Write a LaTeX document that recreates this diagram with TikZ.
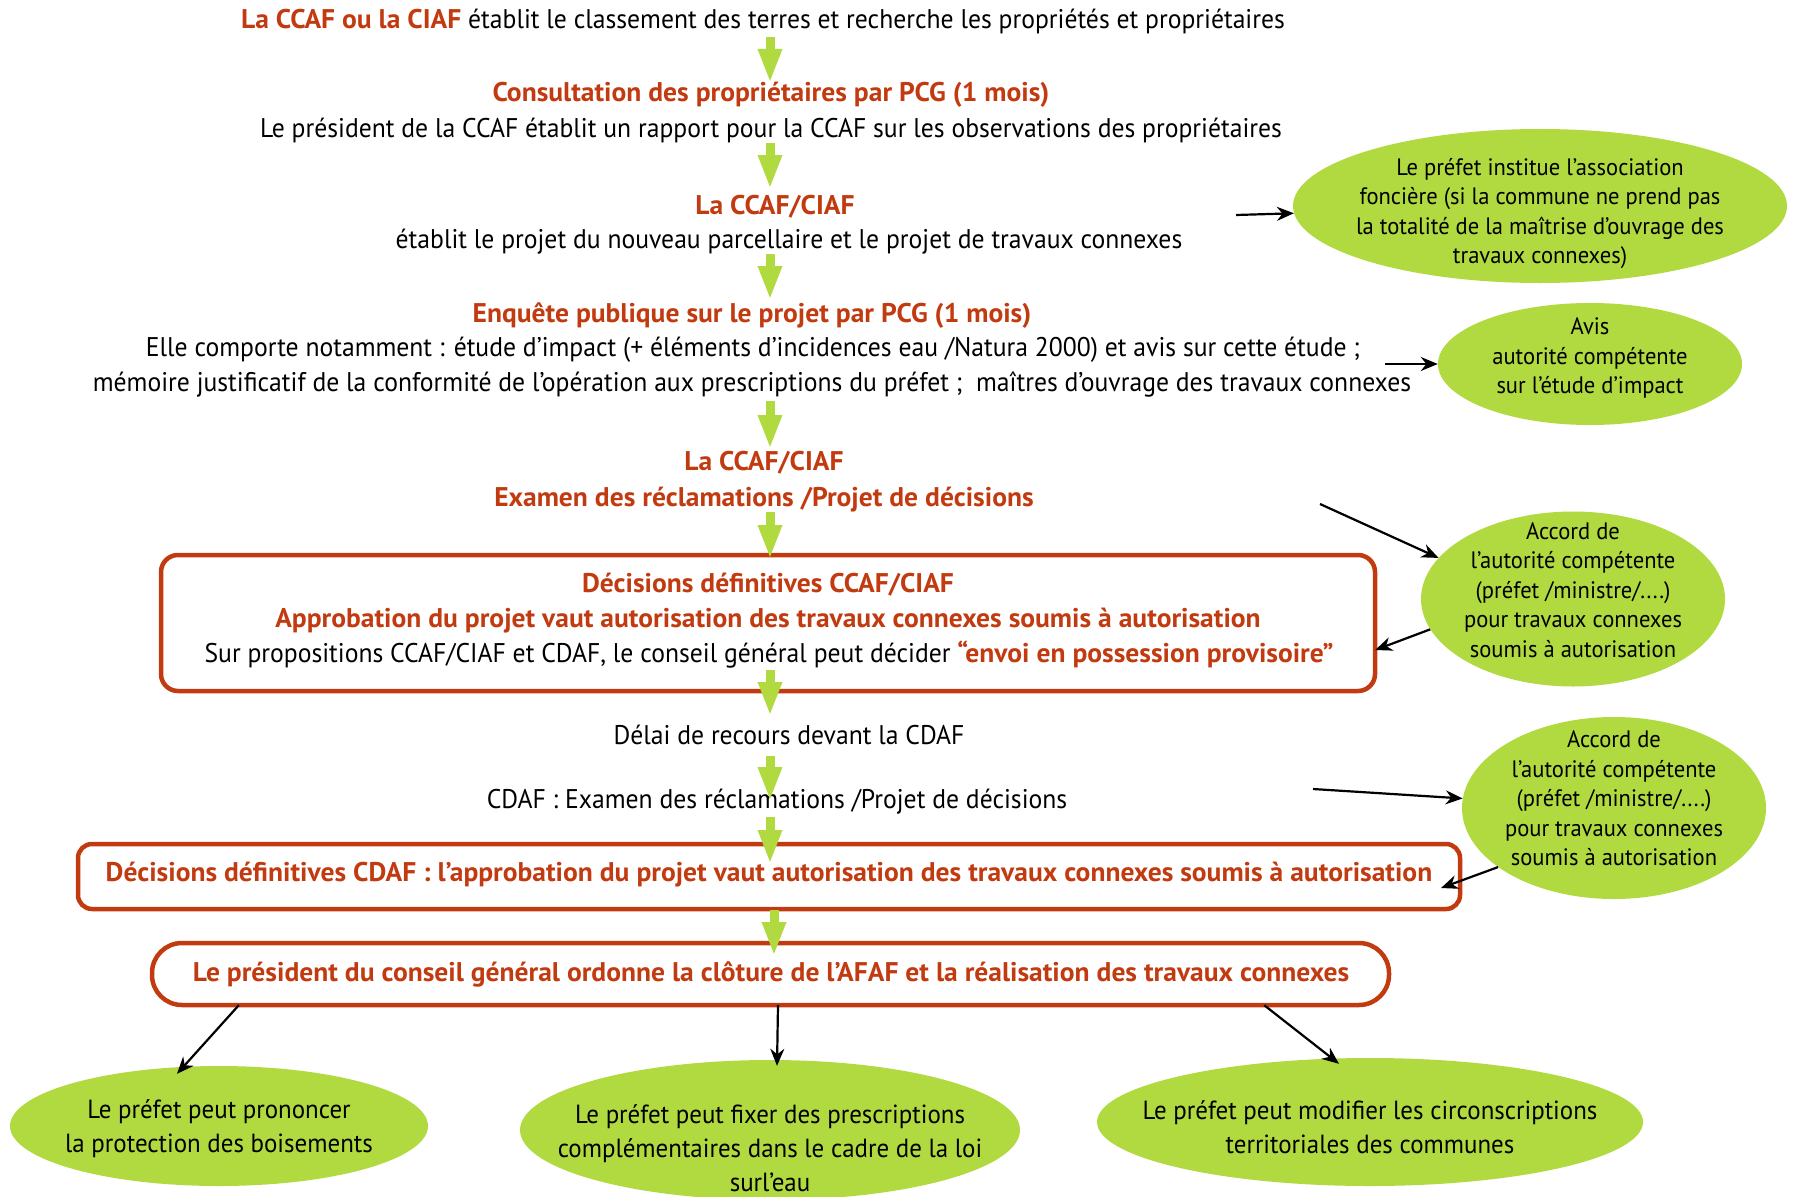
\documentclass[tikz,border=0pt]{standalone}
\usepackage{fontspec}
\setmainfont[FakeStretch=0.95,BoldFeatures={FakeStretch=1.02}]{PT Sans}
\usetikzlibrary{arrows.meta,shapes.geometric,calc}
\definecolor{rouge}{HTML}{C23B10}
\definecolor{vert}{HTML}{B0DA40}
\begin{document}
\begin{tikzpicture}[x=1pt,y=-1pt,
  txt/.style={inner sep=0pt, anchor=base, text=black, font=\fontsize{27}{35}\selectfont},
  rtxt/.style={txt, text=rouge, font=\fontsize{27}{35}\selectfont\bfseries},
  etxt/.style={inner sep=0pt, align=center, text=black, font=\fontsize{23.75}{29.5}\selectfont},
  btxt/.style={etxt, font=\fontsize{26.25}{34}\selectfont},
  ell/.style={ellipse, fill=vert, inner sep=0pt},
  rbox/.style={draw=rouge, line width=4.5pt, rounded corners=17pt},
  garrow/.style={draw=vert, line width=9pt, -{Triangle[width=22pt,length=34pt]}},
  barrow/.style={draw=black, line width=2.2pt, -{Stealth[length=17pt,width=14pt]}}]
\useasboundingbox (0,0) rectangle (1795,1196);

% main text column
\node[txt] (t1) at (763,29) {\textcolor{rouge}{\bfseries La CCAF ou la CIAF} établit le classement des terres et recherche les propriétés et propriétaires};
\node[rtxt] (t2) at (771,102) {Consultation des propriétaires par PCG (1 mois)};
\node[txt] (t3) at (771,137) {Le président de la CCAF établit un rapport pour la CCAF sur les observations des propriétaires};
\node[rtxt] (t4) at (775,214) {La CCAF/CIAF};
\node[txt] (t5) at (789,248) {établit le projet du nouveau parcellaire et le projet de travaux connexes};
\node[rtxt] (t6) at (752,322) {Enquête publique sur le projet par PCG (1 mois)};
\node[txt] (t7) at (753,356) {Elle comporte notamment : étude d’impact (+ éléments d’incidences eau /Natura 2000) et avis sur cette étude ;};
\node[txt] (t8) at (752,391) {mémoire justificatif de la conformité de l’opération aux prescriptions du préfet ;\ \ maîtres d’ouvrage des travaux connexes};
\node[rtxt] (t9) at (764,470) {La CCAF/CIAF};
\node[rtxt] (t10) at (764,506) {Examen des réclamations /Projet de décisions};

% box 1
\draw[rbox] (161,555) rectangle (1375,691);
\node[inner sep=0pt, minimum width=1214pt, minimum height=136pt] (b1) at (768,623) {};
\node[rtxt] (t11) at (768,592) {Décisions définitives CCAF/CIAF};
\node[rtxt] (t12) at (768,627) {Approbation du projet vaut autorisation des travaux connexes soumis à autorisation};
\node[txt] (t13) at (769,662) {Sur propositions CCAF/CIAF et CDAF, le conseil général peut décider \textcolor{rouge}{\bfseries “envoi en possession provisoire”}};

\node[txt] (t14) at (789,744) {Délai de recours devant la CDAF};
\node[txt] (t15) at (777,808) {CDAF : Examen des réclamations /Projet de décisions};

% box 2
\draw[rbox, rounded corners=14pt] (78,844) rectangle (1460,909);
\node[inner sep=0pt, minimum width=1382pt, minimum height=65pt] (b2) at (769,876.5) {};
\node[rtxt] (t16) at (769,881) {Décisions définitives CDAF : l’approbation du projet vaut autorisation des travaux connexes soumis à autorisation};

% box 3
\draw[rbox, rounded corners=30pt] (152,943) rectangle (1389,1005);
\node[inner sep=0pt, minimum width=1237pt, minimum height=62pt] (b3) at (770.5,974) {};
\node[rtxt] (t17) at (771,981) {Le président du conseil général ordonne la clôture de l’AFAF et la réalisation des travaux connexes};

% right ellipses
\node[ell, minimum width=494pt, minimum height=154pt] (e1) at (1540,206) {};
\node[etxt] (e1t) at (1540,213.5) {Le préfet institue l’association\\foncière (si la commune ne prend pas\\la totalité de la maîtrise d’ouvrage des\\travaux connexes)};
\node[ell, minimum width=304pt, minimum height=122pt] (e2) at (1590,364) {};
\node[etxt] (e2t) at (1590,358) {Avis\\autorité compétente\\sur l’étude d’impact};
\node[ell, minimum width=304pt, minimum height=175pt] (e3) at (1573,599) {};
\node[etxt] (e3t) at (1573,590) {Accord de\\l’autorité compétente\\(préfet /ministre/....)\\pour travaux connexes\\soumis à autorisation};
\node[ell, minimum width=304pt, minimum height=182pt] (e4) at (1614,808) {};
\node[etxt] (e4t) at (1614,798.5) {Accord de\\l’autorité compétente\\(préfet /ministre/....)\\pour travaux connexes\\soumis à autorisation};

% bottom ellipses
\node[ell, minimum width=418pt, minimum height=120pt] (eb1) at (219,1126) {};
\node[btxt] (eb1t) at (219,1129) {Le préfet peut prononcer\\la protection des boisements};
\node[ell, minimum width=500pt, minimum height=140pt] (eb2) at (770,1130) {};
\node[btxt] (eb2t) at (770,1148) {Le préfet peut fixer des prescriptions\\complémentaires dans le cadre de la loi\\surl’eau};
\node[ell, minimum width=546pt, minimum height=128pt] (eb3) at (1370,1122) {};
\node[btxt] (eb3t) at (1370,1127.5) {Le préfet peut modifier les circonscriptions\\territoriales des communes};

% black connectors
\coordinate (c1) at (1236,215);
\coordinate (c2) at (1385,364);
\coordinate (c3) at (1320,504);
\coordinate (c4) at (1313,789);
\draw[barrow] (c1) -- (e1);
\draw[barrow] (c2) -- (e2);
\draw[barrow] (c3) -- (e3.163);
\draw[barrow] (c4) -- (e4);
\draw[barrow] (e3.192.5) -- ([yshift=-27pt]b1.east);
\coordinate (c5) at (1441,888);
\draw[barrow] (e4.207) -- (c5);
\draw[barrow] ([xshift=87pt]b3.south west) -- ([xshift=-42pt,yshift=-8pt]eb1.north);
\draw[barrow] ([xshift=7.5pt]b3.south) -- ([xshift=7pt,yshift=-6pt]eb2.north);
\draw[barrow] ([xshift=-125pt]b3.south east) -- ([xshift=-31pt,yshift=-6pt]eb3.north);

% green arrows
\draw[garrow] (770,37) -- (770,83);
\draw[garrow] (770,143) -- (770,189);
\draw[garrow] (770,254) -- (770,300);
\draw[garrow] (770,401) -- (770,449);
\draw[garrow] (770,512) -- (770,559);
\draw[garrow] (770,670) -- (770,716);
\draw[garrow] (770,756) -- (770,801);
\draw[garrow] (770,817) -- (770,864);
\draw[garrow] (774,910) -- (774,956);
\end{tikzpicture}
\end{document}
